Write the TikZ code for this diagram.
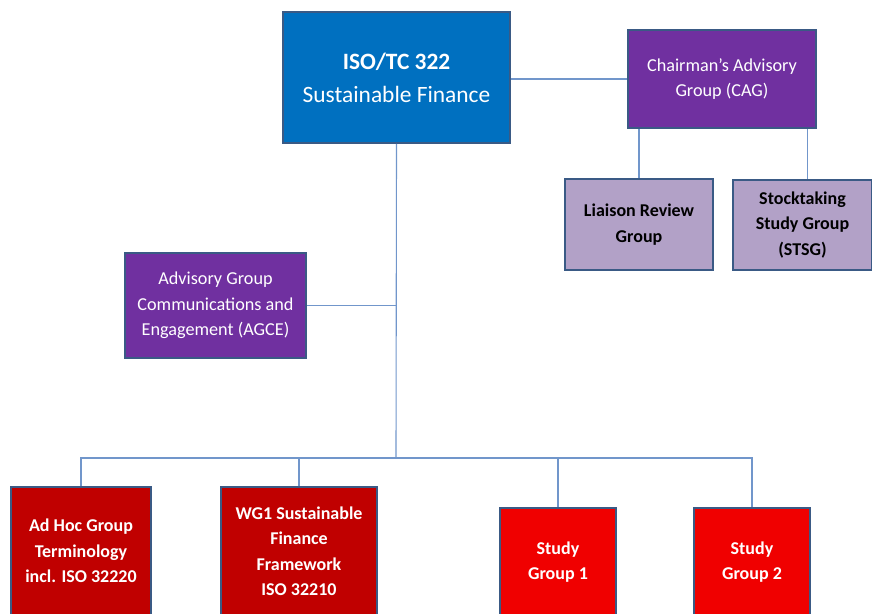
\documentclass[tikz,border=0pt]{standalone}
\usepackage{fontspec}
\setmainfont{Carlito}
\usetikzlibrary{positioning,calc}

\definecolor{tcblue}{HTML}{0070C0}
\definecolor{agpurple}{HTML}{7030A0}
\definecolor{sglavender}{HTML}{B2A1C7}
\definecolor{wgred}{HTML}{C00000}
\definecolor{sgred}{HTML}{F00000}
\definecolor{boxline}{HTML}{3A5A85}
\definecolor{linkblue}{HTML}{7196CB}

\begin{document}
\begin{tikzpicture}[x=1pt, y=-1pt,
    box/.style={draw=boxline, line width=1.5pt, align=center, inner sep=2pt,
        font=\fontsize{18.2}{25.5}\selectfont},
    boldbox/.style={box, font=\bfseries\fontsize{18}{25.5}\selectfont},
    link/.style={draw=linkblue, line width=1.1pt}]
\useasboundingbox (0,0) rectangle (872,613);
\clip (0,0) rectangle (872,613);

% committee and advisory groups
\node[box, fill=tcblue, text=white, minimum width=227pt, minimum height=131pt,
    font=\fontsize{23.4}{33}\selectfont] (tc) at (396.5,77.5)
    {\textbf{ISO/TC 322}\\Sustainable Finance};
\node[box, fill=agpurple, text=white, minimum width=188pt, minimum height=98pt] (cag) at (722,79)
    {Chairman’s Advisory\\Group (CAG)};
\node[boldbox, fill=sglavender, minimum width=148pt, minimum height=91pt] (lrg) at (639,224.5)
    {Liaison Review\\Group};
\node[boldbox, fill=sglavender, minimum width=139pt, minimum height=90pt] (stsg) at (802.5,225)
    {Stocktaking\\Study Group\\(STSG)};
\node[box, fill=agpurple, text=white, minimum width=181pt, minimum height=105pt] (agce) at (215.5,305.5)
    {Advisory Group\\Communications and\\Engagement (AGCE)};

% working and study groups
\node[boldbox, fill=wgred, text=white, minimum width=140pt, minimum height=128pt] (adhoc) at (81,551)
    {Ad Hoc Group\\Terminology\\incl. ISO 32220};
\node[boldbox, fill=wgred, text=white, minimum width=156pt, minimum height=128pt] (wg1) at (299,551)
    {WG1 Sustainable\\Finance\\Framework\\ISO 32210};
\node[boldbox, fill=sgred, text=white, minimum width=116pt, minimum height=108pt] (sg1) at (558,562)
    {Study\\Group 1};
\node[boldbox, fill=sgred, text=white, minimum width=116pt, minimum height=108pt] (sg2) at (752,562)
    {Study\\Group 2};

% connectors
\coordinate (bus) at (396,458);
\draw[link] (tc.east |- cag.west) -- (cag.west);
\draw[link] (lrg.north |- cag.south) -- (lrg.north);
\draw[link] ($(stsg.north |- cag.south)+(5,0)$) -- ($(stsg.north)+(5,0)$);
\draw[link] (tc.south) -- (bus);
\draw[link] (agce.east) -- (agce.east -| bus);
\draw[link] (adhoc.north) -- (adhoc.north |- bus) -- (sg2.north |- bus) -- (sg2.north);
\draw[link] (wg1.north) -- (wg1.north |- bus);
\draw[link] (sg1.north) -- (sg1.north |- bus);
\end{tikzpicture}
\end{document}
